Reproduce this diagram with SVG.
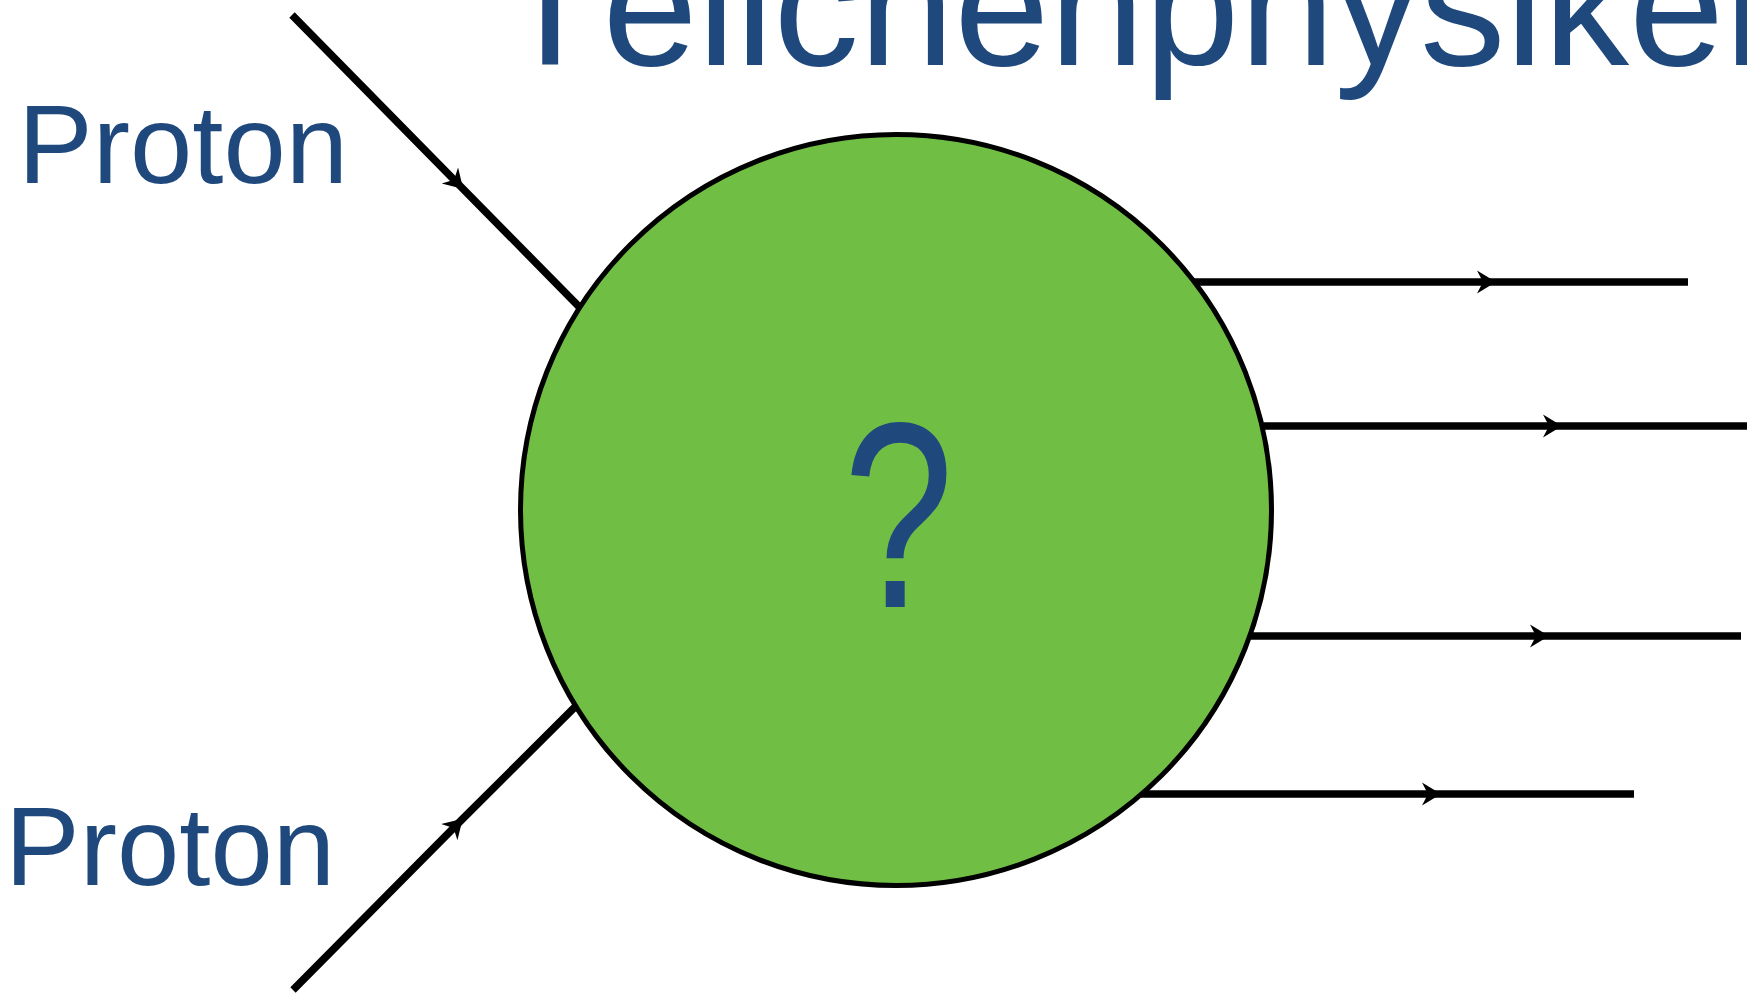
<svg xmlns="http://www.w3.org/2000/svg" width="1747" height="993" viewBox="0 0 1747 993">
  <style>
    .label { font-family: "Liberation Sans", Arial, sans-serif; fill: #1f497d; font-kerning: none; }
    .track { fill: none; stroke: #000; stroke-width: 7.5; marker-mid: url(#barb); }
  </style>
  <defs>
    <!-- barbed arrowhead placed on the middle vertex of each particle track -->
    <marker id="barb" viewBox="-20 -13 22 26" refX="0" refY="0" markerWidth="22" markerHeight="26" markerUnits="userSpaceOnUse" orient="auto">
      <path d="M1,0 L-18,-11.5 L-12,0 L-18,11.5 Z" fill="#000"/>
    </marker>
  </defs>

  <rect width="1747" height="993" fill="#fff"/>

  <!-- title, running off the top and right edges -->
  <text id="title" class="label" x="498" y="65" font-size="171">Teilchenphysiker</text>

  <!-- particle tracks -->
  <g id="connectors">
    <polyline class="track" points="292,15 462.5,188.3 600,328"/>
    <polyline class="track" points="293,990 462,819.5 600,682"/>
    <polyline class="track" points="1150,282 1495,282 1688,282"/>
    <polyline class="track" points="1220,426 1561,426 1747,426"/>
    <polyline class="track" points="1210,636 1548,636 1741,636"/>
    <polyline class="track" points="1100,794 1440,794 1634,794"/>
  </g>

  <!-- interaction vertex -->
  <g id="vertex">
    <circle cx="896" cy="510" r="375.5" fill="#70bf44" stroke="#000" stroke-width="5"/>
    <text class="label" transform="translate(898.5,607) scale(0.75,1)" x="0" y="0" font-size="265" text-anchor="middle">?</text>
  </g>

  <g id="proton-top">
    <text class="label" x="18" y="183" font-size="112">Proton</text>
  </g>
  <g id="proton-bottom">
    <text class="label" x="5" y="885" font-size="112">Proton</text>
  </g>
</svg>
